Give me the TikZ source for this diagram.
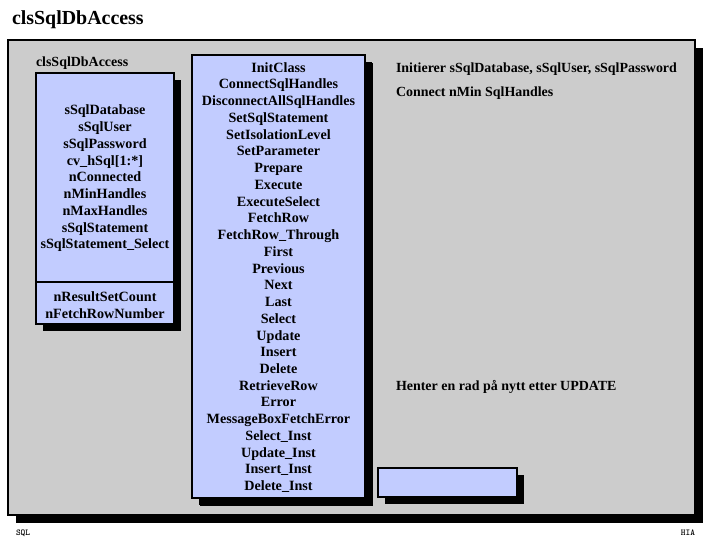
\documentclass[tikz,border=0pt]{standalone}
\usepackage{fontspec}
\setmainfont{Liberation Serif}
\usetikzlibrary{shadows}
\definecolor{panelgray}{RGB}{204,204,204}
\definecolor{boxblue}{RGB}{194,204,255}
\begin{document}
\begin{tikzpicture}[x=1bp,y=-1bp,
  every node/.style={inner sep=0pt, outer sep=0pt},
  txt/.style={font=\bfseries\fontsize{14.2}{16.8}\selectfont, align=center},
  note/.style={font=\bfseries\fontsize{14}{16.8}\selectfont, anchor=west},
  panel/.style={draw=black, line width=2bp, fill=panelgray, rectangle,
    drop shadow={shadow xshift=8bp, shadow yshift=-8bp, fill=black, opacity=1}},
  bluebox/.style={draw=black, line width=2bp, fill=boxblue, rectangle,
    drop shadow={shadow xshift=7bp, shadow yshift=-7bp, fill=black, opacity=1}},
  plainblue/.style={draw=black, line width=2bp, fill=boxblue, rectangle},
  foot/.style={font=\ttfamily\bfseries\fontsize{9}{10}\selectfont}
]
\useasboundingbox (0,0) rectangle (720,540);
\fill[white] (0,0) rectangle (720,540);

\node[font=\bfseries\fontsize{20}{24}\selectfont, anchor=west] (title) at (12,19.5) {clsSqlDbAccess};

\node[panel, minimum width=687bp, minimum height=475bp] (panel) at (351.5,277.5) {};

\node[font=\bfseries\fontsize{14}{16}\selectfont, anchor=west] (clslabel) at (36,63) {clsSqlDbAccess};

% left class box (attributes)
\node[bluebox, minimum width=138bp, minimum height=251bp] (attrbox) at (105,198.5) {};
\node[plainblue, minimum width=138bp, minimum height=209bp] (attrtop) at (105,177.5) {};
\node[txt] (attrs) at (105,178.5) {sSqlDatabase\\sSqlUser\\sSqlPassword\\cv\_hSql[1:*]\\nConnected\\nMinHandles\\nMaxHandles\\sSqlStatement\\sSqlStatement\_Select};
\node[txt] (attrs2) at (105,305.5) {nResultSetCount\\nFetchRowNumber};

% middle methods box
\node[bluebox, minimum width=173bp, minimum height=443bp, drop shadow={shadow xshift=8bp, shadow yshift=-8bp, fill=black, opacity=1}] (methbox) at (278.5,276.5) {};
\node[txt] (methods) at (278.5,277.5) {InitClass\\ConnectSqlHandles\\DisconnectAllSqlHandles\\SetSqlStatement\\SetIsolationLevel\\SetParameter\\Prepare\\Execute\\ExecuteSelect\\FetchRow\\FetchRow\_Through\\First\\Previous\\Next\\Last\\Select\\Update\\Insert\\Delete\\RetrieveRow\\Error\\MessageBoxFetchError\\Select\_Inst\\Update\_Inst\\Insert\_Inst\\Delete\_Inst};

% small empty box
\node[bluebox, minimum width=139bp, minimum height=29bp] (smallbox) at (447.5,482.5) {};

% notes
\node[note] (n1) at (396,69) {Initierer sSqlDatabase, sSqlUser, sSqlPassword};
\node[note] (n2) at (396,93) {Connect nMin SqlHandles};
\node[note] (n3) at (396,387) {Henter en rad på nytt etter UPDATE};

% footer
\node[foot, anchor=west] (fl) at (16,533) {SQL};
\node[foot, anchor=east] (fr) at (695,533) {HIA};
\end{tikzpicture}
\end{document}
